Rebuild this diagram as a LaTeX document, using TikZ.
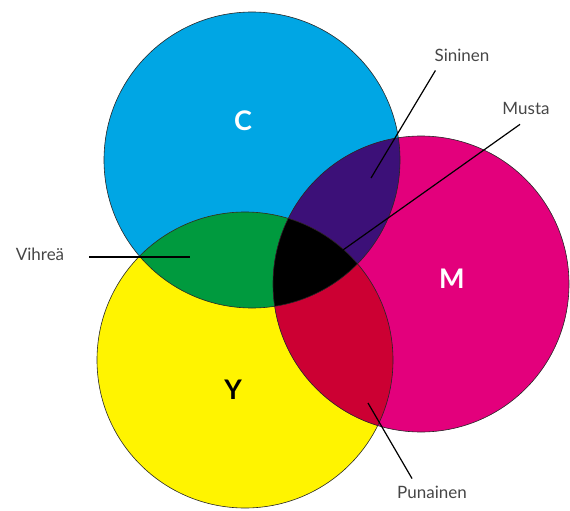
\documentclass[tikz,border=0pt]{standalone}
\usepackage{fontspec}
\setmainfont{Lato}
\usepackage{tikz}
\usetikzlibrary{calc,positioning}

\definecolor{cyanC}{RGB}{0,166,228}
\definecolor{magM}{RGB}{227,0,124}
\definecolor{yelY}{RGB}{255,244,0}
\definecolor{greenCY}{RGB}{0,154,62}
\definecolor{blueCM}{RGB}{60,16,120}
\definecolor{redYM}{RGB}{204,0,51}
\definecolor{tagtext}{RGB}{70,70,70}

\begin{document}
\begin{tikzpicture}[x=1pt,y=-1pt,
  rim/.style={draw=black!85, line width=0.6pt},
  letter/.style={font=\fontsize{27}{27}\selectfont\bfseries},
  tag/.style={font=\fontsize{17}{17}\selectfont, text=tagtext, inner sep=1pt},
  leader/.style={draw=black, line width=1.2pt}
]
  \useasboundingbox (0,0) rectangle (570,511);

  % centres of the three discs
  \coordinate (c) at (252,160);
  \coordinate (y) at (245,360);
  \coordinate (m) at (421,284);

  \fill[cyanC] (c) circle (148pt);
  \fill[yelY]  (y) circle (148pt);
  \fill[magM]  (m) circle (148pt);

  % two-colour overlaps
  \begin{scope}
    \clip (c) circle (148pt);
    \fill[greenCY] (y) circle (148pt);
    \fill[blueCM]  (m) circle (148pt);
  \end{scope}
  \begin{scope}
    \clip (y) circle (148pt);
    \fill[redYM] (m) circle (148pt);
  \end{scope}
  % all three
  \begin{scope}
    \clip (c) circle (148pt);
    \clip (y) circle (148pt);
    \fill[black] (m) circle (148pt);
  \end{scope}

  \draw[rim] (c) circle (148pt);
  \draw[rim] (y) circle (148pt);
  \draw[rim] (m) circle (148pt);

  \node[letter, text=white] (cl) at (243,121) {C};
  \node[letter, text=white] (ml) at (452,279) {M};
  \node[letter, text=black] (yl) at (233,390) {Y};

  \node[tag] (sininen) at (462,55) {Sininen};
  \node[tag] (musta) at (526,108) {Musta};
  \node[tag] (vihrea) at (40,254) {Vihreä};
  \node[tag] (punainen) at (432,492) {Punainen};

  \coordinate (sin-end) at (371,178);
  \coordinate (mus-end) at (343,250);
  \coordinate (vih-end) at (190,257);
  \coordinate (pun-end) at (368,403);

  \draw[leader] ($(sininen.south west)+(2,8)$) -- (sin-end);
  \draw[leader] ($(musta.south)+(-6,9)$) -- (mus-end);
  \draw[leader] ($(vihrea.east)+(24,3)$) -- (vih-end);
  \draw[leader] ($(punainen.north west)+(16,-6)$) -- (pun-end);
\end{tikzpicture}
\end{document}
